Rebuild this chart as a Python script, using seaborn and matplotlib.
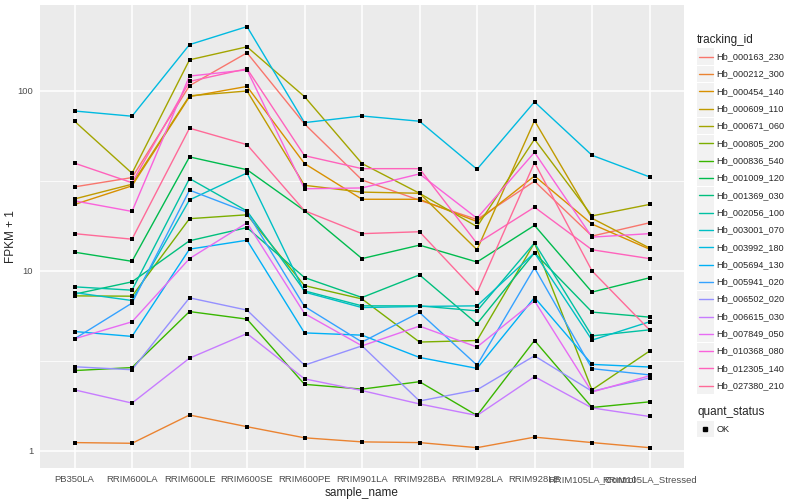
import numpy as np
import pandas as pd
import matplotlib
matplotlib.use("Agg")
import matplotlib.pyplot as plt
from matplotlib.patches import Rectangle
from matplotlib.lines import Line2D
import seaborn as sns

samples = ["PB350LA", "RRIM600LA", "RRIM600LE", "RRIM600SE", "RRIM600PE", "RRIM901LA",
           "RRIM928BA", "RRIM928LA", "RRIM928LE", "RRIM105LA_Control", "RRIM105LA_Stressed"]

# FPKM + 1 per gene
Hb_000163_230 = [29.3, 33.0, 107, 163, 65.6, 32.0, 24.7, 19.3, 31.5, 15.6, 18.5]
Hb_000212_300 = [1.11, 1.10, 1.58, 1.36, 1.18, 1.12, 1.11, 1.04, 1.19, 1.11, 1.04]
Hb_000454_140 = [23.4, 29.7, 93, 106, 39.5, 25.0, 25.0, 18.8, 33.7, 18.2, 13.2]
Hb_000609_110 = [25.1, 30.3, 94, 100, 29.9, 27.4, 27.0, 13.1, 68.4, 19.6, 13.4]
Hb_000671_060 = [67.9, 34.9, 149, 176, 93, 39.5, 27.0, 17.6, 53.9, 20.2, 23.4]
Hb_000805_200 = [7.26, 7.23, 19.5, 20.5, 8.28, 6.98, 4.02, 4.10, 14.3, 2.18, 3.58]
Hb_000836_540 = [2.79, 2.90, 5.94, 5.39, 2.34, 2.20, 2.42, 1.57, 4.10, 1.74, 1.87]
Hb_001009_120 = [12.7, 11.3, 43.0, 36.5, 21.6, 11.7, 13.9, 11.2, 17.9, 7.62, 9.15]
Hb_001369_030 = [7.42, 8.69, 14.7, 17.4, 9.18, 7.11, 9.5, 5.08, 12.6, 5.9, 5.53]
Hb_002056_100 = [8.15, 7.81, 32.6, 21.5, 7.74, 6.39, 6.39, 5.99, 14.3, 4.35, 4.70]
Hb_003001_070 = [7.57, 6.84, 24.8, 35.0, 7.62, 6.25, 6.34, 6.39, 12.6, 4.12, 5.21]
Hb_003992_180 = [77.4, 72.4, 181, 228, 66.7, 72.6, 67.9, 36.7, 87, 43.9, 33.3]
Hb_005694_130 = [4.60, 4.32, 13.2, 14.8, 4.52, 4.39, 3.30, 2.87, 7.11, 3.02, 2.92]
Hb_005941_020 = [4.19, 6.62, 28.1, 21.2, 6.34, 4.02, 5.87, 2.99, 10.4, 2.86, 2.64]
Hb_006502_020 = [2.93, 2.82, 7.08, 6.05, 2.99, 3.83, 1.89, 2.18, 3.37, 2.14, 2.54]
Hb_006615_030 = [2.18, 1.84, 3.27, 4.48, 2.51, 2.16, 1.82, 1.57, 2.58, 1.73, 1.55]
Hb_007849_050 = [4.19, 5.21, 11.7, 18.5, 5.79, 3.83, 4.93, 3.77, 6.81, 2.12, 2.61]
Hb_010368_080 = [24.5, 21.4, 121, 131, 28.6, 28.9, 34.6, 19.6, 45.6, 15.4, 16.1]
Hb_012305_140 = [39.7, 30.9, 113, 133, 43.7, 37.0, 37.0, 14.2, 22.6, 13.1, 11.7]
Hb_027380_210 = [16.1, 15.0, 62.1, 50.3, 21.6, 16.1, 16.5, 7.55, 40.0, 10.0, 4.70]

genes = {
    "Hb_000163_230": Hb_000163_230, "Hb_000212_300": Hb_000212_300,
    "Hb_000454_140": Hb_000454_140, "Hb_000609_110": Hb_000609_110,
    "Hb_000671_060": Hb_000671_060, "Hb_000805_200": Hb_000805_200,
    "Hb_000836_540": Hb_000836_540, "Hb_001009_120": Hb_001009_120,
    "Hb_001369_030": Hb_001369_030, "Hb_002056_100": Hb_002056_100,
    "Hb_003001_070": Hb_003001_070, "Hb_003992_180": Hb_003992_180,
    "Hb_005694_130": Hb_005694_130, "Hb_005941_020": Hb_005941_020,
    "Hb_006502_020": Hb_006502_020, "Hb_006615_030": Hb_006615_030,
    "Hb_007849_050": Hb_007849_050, "Hb_010368_080": Hb_010368_080,
    "Hb_012305_140": Hb_012305_140, "Hb_027380_210": Hb_027380_210,
}
ids = list(genes.keys())

rows = []
for g, vals in genes.items():
    for s, v in zip(samples, vals):
        rows.append({"sample_name": s, "tracking_id": g, "fpkm1": v, "quant_status": "OK"})
df = pd.DataFrame(rows)


# ggplot2 default hue palette (HCL, c=100, l=65)
def hcl_hex(h, c=100.0, l=65.0):
    hr = np.deg2rad(h)
    u, v = c * np.cos(hr), c * np.sin(hr)
    Y = ((l + 16) / 116) ** 3
    Xn, Yn, Zn = 0.95047, 1.0, 1.08883
    d = Xn + 15 * Yn + 3 * Zn
    un, vn = 4 * Xn / d, 9 * Yn / d
    up, vp = u / (13 * l) + un, v / (13 * l) + vn
    X = Y * 9 * up / (4 * vp)
    Z = Y * (12 - 3 * up - 20 * vp) / (4 * vp)
    M = np.array([[3.240479, -1.537150, -0.498535],
                  [-0.969256, 1.875992, 0.041556],
                  [0.055648, -0.204043, 1.057311]])
    rgb = M @ np.array([X, Y, Z])
    rgb = np.where(rgb > 0.0031308, 1.055 * np.abs(rgb) ** (1 / 2.4) - 0.055, 12.92 * rgb)
    return tuple(np.clip(rgb, 0, 1))


hues = np.linspace(15, 375, len(ids) + 1)[:-1]
colors = [hcl_hex(h) for h in hues]
palette = dict(zip(ids, colors))

sns.set_theme(style="darkgrid", rc={
    "axes.facecolor": "#EBEBEB",
    "grid.color": "white",
    "axes.edgecolor": "white",
})
plt.rcParams["font.family"] = ["Liberation Sans", "DejaVu Sans"]

fig = plt.figure(figsize=(8, 5), dpi=100)
# panel spans x 40..684, y 5..468 px
ax = fig.add_axes([40 / 800, 32 / 500, 644 / 800, 463 / 500])

sns.lineplot(data=df, x="sample_name", y="fpkm1", hue="tracking_id", hue_order=ids,
             palette=palette, sort=False, estimator=None, linewidth=1.0,
             legend=False, ax=ax)
sns.scatterplot(data=df, x="sample_name", y="fpkm1", color="black", marker="s",
                s=9, linewidth=0, legend=False, ax=ax, zorder=5)

ax.set_yscale("log")
ax.set_ylim(10 ** -0.096, 10 ** 2.478)
ax.set_xlim(-0.6, 10.6)
ax.set_yticks([1, 10, 100])
ax.set_yticklabels(["1", "10", "100"])
ax.yaxis.set_minor_locator(matplotlib.ticker.FixedLocator([10 ** 0.5, 10 ** 1.5]))
ax.yaxis.set_minor_formatter(matplotlib.ticker.NullFormatter())
ax.grid(True, which="major", color="white", linewidth=1.1)
ax.grid(True, which="minor", axis="y", color="white", linewidth=0.55)
ax.tick_params(axis="both", which="major", length=3, width=0.8, color="#333333",
               labelsize=6.8, labelcolor="#4D4D4D", pad=2)
ax.tick_params(axis="y", which="minor", length=0)
for sp in ax.spines.values():
    sp.set_visible(False)
ax.set_xlabel("sample_name", fontsize=8.5, labelpad=2)
ax.set_ylabel("FPKM + 1", fontsize=8.5)
ax.yaxis.set_label_coords((17 - 40) / 644, 0.5)

# legend, drawn in ggplot style on the right
def fx(px):
    return px / 800


def fy(py):
    return 1 - py / 500


fig.text(fx(697), fy(40.5), "tracking_id", fontsize=8.5, va="center", ha="left")
for i, g in enumerate(ids):
    yc = 56.7 + i * 17.32
    fig.add_artist(Rectangle((fx(697), fy(yc + 8.4)), 16.8 / 800, 16.8 / 500,
                             transform=fig.transFigure, facecolor="#F2F2F2",
                             edgecolor="none"))
    fig.add_artist(Line2D([fx(698.5), fx(712.5)], [fy(yc), fy(yc)],
                          transform=fig.transFigure, color=palette[g], linewidth=1.0))
    fig.text(fx(716.5), fy(yc), g, fontsize=6.6, va="center", ha="left")

fig.text(fx(697), fy(412.5), "quant_status", fontsize=8.5, va="center", ha="left")
fig.add_artist(Rectangle((fx(697), fy(429 + 8.4)), 16.8 / 800, 16.8 / 500,
                         transform=fig.transFigure, facecolor="#F2F2F2", edgecolor="none"))
fig.add_artist(Line2D([fx(705)], [fy(429)], transform=fig.transFigure, marker="s",
                      markersize=2.6, color="black", linestyle="none"))
fig.text(fx(716.5), fy(429), "OK", fontsize=6.6, va="center", ha="left")

fig.savefig("out.png", dpi=100)
